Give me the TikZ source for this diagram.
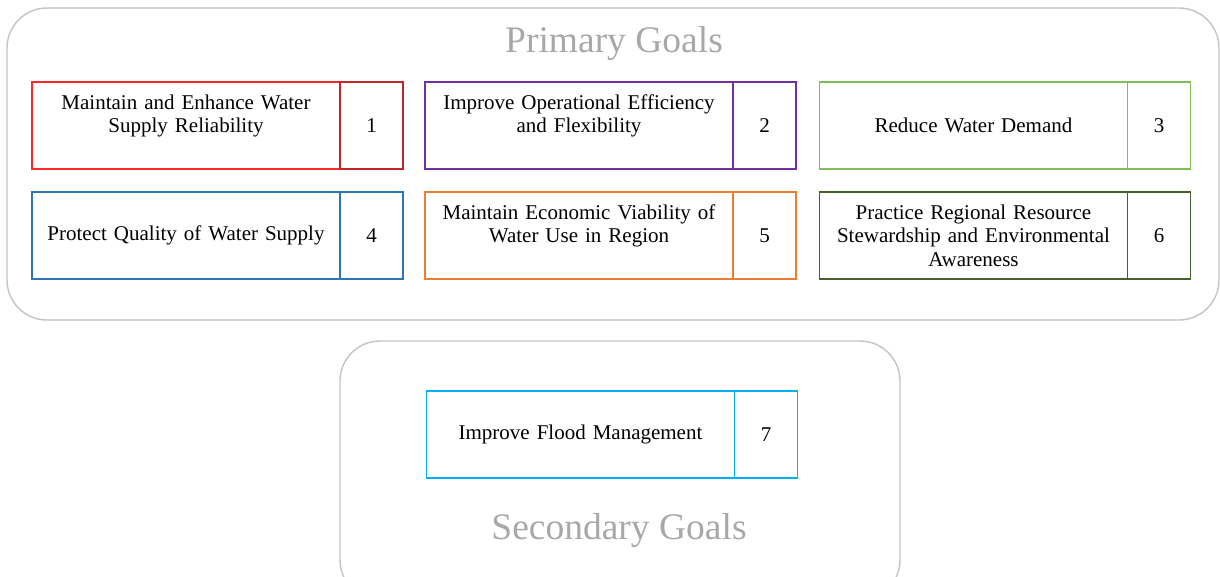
\documentclass[tikz,border=0pt]{standalone}
\usepackage{fontspec}
\setmainfont{Liberation Serif}
\usetikzlibrary{positioning}
\definecolor{framegray}{RGB}{196,196,196}
\definecolor{titlegray}{RGB}{168,168,168}
\definecolor{goalred}{RGB}{255,40,40}
\definecolor{numred}{RGB}{192,40,40}
\definecolor{goalpurple}{RGB}{112,48,160}
\definecolor{goallime}{RGB}{128,188,90}
\definecolor{goalblue}{RGB}{46,117,182}
\definecolor{goalorange}{RGB}{237,125,49}
\definecolor{goalforest}{RGB}{70,95,45}
\definecolor{goalcyan}{RGB}{0,176,240}
\tikzset{
    %Define style for the rounded group frames
    panel/.style={
           draw=framegray,
           line width=1.4pt,
           rounded corners=40pt},
    %Define style for group titles
    heading/.style={
           text=titlegray,
           inner sep=0pt,
           font=\fontsize{37.5}{40}\selectfont},
    %Define style for goal boxes
    goal/.style={
           rectangle,
           draw=#1,
           line width=1.5pt,
           outer sep=0pt,
           inner sep=0pt,
           minimum width=308pt,
           minimum height=87pt,
           text width=292pt,
           align=center,
           font=\fontsize{21}{23.5}\selectfont},
    % Define style for number boxes
    num/.style={
           goal=#1,
           minimum width=63pt,
           text width=50pt}
}

\begin{document}
\begin{tikzpicture}[x=1pt,y=-1pt]
  \clip (0,0) rectangle (1220,576);
  % frames
  \draw[panel] (7,8) rectangle (1219,320);
  \draw[panel] (340,341) rectangle (900,600);
  \node[heading] (primary) at (614,44) {Primary Goals};
  \node[heading] (secondary) at (619,531) {Secondary Goals};
  % first row
  \node[goal=goalred] (g1) at (186,125.5) {Maintain and Enhance Water\\Supply Reliability\\~};
  \node[num=numred,right=0pt of g1] (n1) {1};
  \node[goal=goalpurple] (g2) at (579,125.5) {Improve Operational Efficiency\\and Flexibility\\~};
  \node[num=goalpurple,right=0pt of g2] (n2) {2};
  \node[goal=goallime] (g3) at (973.5,125.5) {Reduce Water Demand};
  \node[num=goallime,right=0pt of g3] (n3) {3};
  % second row
  \node[goal=goalblue] (g4) at (186,235.5) {Protect Quality of Water Supply};
  \node[num=goalblue,right=0pt of g4] (n4) {4};
  \node[goal=goalorange] (g5) at (579,235.5) {Maintain Economic Viability of\\Water Use in Region\\~};
  \node[num=goalorange,right=0pt of g5] (n5) {5};
  \node[goal=goalforest] (g6) at (973.5,235.5) {Practice Regional Resource\\Stewardship and Environmental\\Awareness};
  \node[num=goalforest,right=0pt of g6] (n6) {6};
  % secondary goal
  \node[goal=goalcyan] (g7) at (580.5,434.5) {Improve Flood Management};
  \node[num=goalcyan,right=0pt of g7] (n7) {7};
\end{tikzpicture}
\end{document}
